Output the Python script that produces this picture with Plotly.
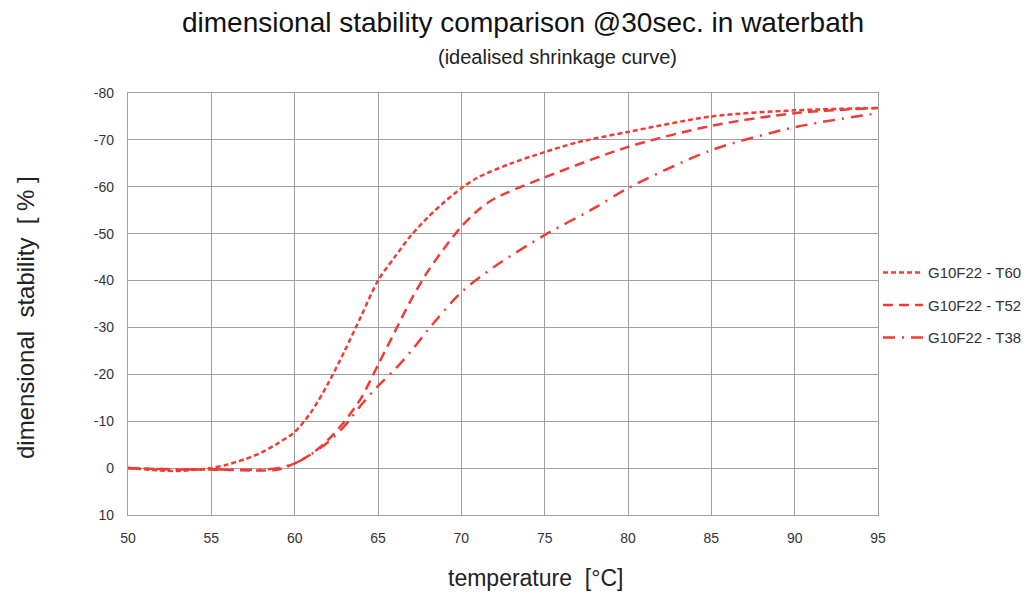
import plotly.graph_objects as go

temps_t60 = [50, 52, 53, 55, 56, 57, 58, 59, 60, 61, 62, 63, 64, 65, 66, 67, 68, 69, 70, 71, 73, 75, 77, 80, 85, 90, 95]
vals_t60 = [0, 0.5, 0.6, 0, -0.8, -1.9, -3.3, -5.3, -7.7, -12, -18, -25, -32.5, -40, -45, -49.7, -53.5, -56.8, -59.7, -62, -65, -67.4, -69.5, -71.7, -75, -76.3, -76.8]

temps_t52 = [50, 53, 55, 58, 59, 60, 61, 62, 63, 64, 65, 66, 67, 68, 69, 70, 71, 72, 75, 80, 85, 90, 95]
vals_t52 = [0, 0.3, 0.3, 0.5, 0.3, -1, -3, -6, -10, -15, -22, -29, -36, -42, -47, -51.5, -55, -57.5, -62, -68.5, -73, -75.7, -76.8]

temps_t38 = [50, 53, 55, 58, 59, 60, 61, 62, 63, 64, 65, 66, 67, 68, 70, 72, 75, 78, 80, 85, 90, 95]
vals_t38 = [0, 0.3, 0.3, 0.3, 0, -1, -3, -5.5, -9, -13.5, -17.5, -21, -25, -29.5, -37.5, -43, -49.7, -55.5, -59.7, -67.8, -72.7, -75.7]

series_names = ["G10F22 - T60", "G10F22 - T52", "G10F22 - T38"]
x_ticks = [50, 55, 60, 65, 70, 75, 80, 85, 90, 95]
y_ticks = [10, 0, -10, -20, -30, -40, -50, -60, -70, -80]
y_tick_text = ["10", "0", "-10", "-20", "-30", "-40", "-50", "-60", "-70", "-80"]

red = "#ee3d36"
dashes = ["5px,3px", "10px,6px", "12px,7px,2px,7px"]
fig = go.Figure()
for i, (name, xs, ys, d) in enumerate(zip(series_names, [temps_t60, temps_t52, temps_t38],
                                          [vals_t60, vals_t52, vals_t38], dashes)):
    fig.add_trace(go.Scatter(x=xs, y=ys, mode="lines", name=name, legendgroup=f"g{i}",
                             line=dict(color=red, width=2.5, dash=d, shape="spline", smoothing=0.8)))

font = "Liberation Sans, Arial, sans-serif"
# the page body has an 8px margin: compensate so the plot sits at 128..878 x 93..515
L, T, PW, PH = 120, 85, 750, 422


def px_x(p):
    return (p - 128) / PW


def px_y(p):
    return (515 - p) / PH


fig.update_layout(
    width=1034, height=595,
    margin=dict(l=L, r=1034 - L - PW, t=T, b=595 - T - PH),
    paper_bgcolor="white", plot_bgcolor="white",
    font=dict(family=font, color="#222"),
    showlegend=True,
    legend=dict(x=1.0, y=0.613, xanchor="left", yanchor="top",
                font=dict(size=15, color="#333"), tracegroupgap=10,
                itemwidth=40, bgcolor="rgba(0,0,0,0)"),
    annotations=[
        dict(text="dimensional stability comparison @30sec. in waterbath",
             x=px_x(523), y=px_y(22), xref="paper", yref="paper",
             xanchor="center", yanchor="middle", showarrow=False,
             font=dict(size=28, color="#111")),
        dict(text="(idealised shrinkage curve)",
             x=px_x(557), y=px_y(57), xref="paper", yref="paper",
             xanchor="center", yanchor="middle", showarrow=False,
             font=dict(size=20, color="#222")),
        dict(text="temperature  [°C]",
             x=px_x(535), y=px_y(578), xref="paper", yref="paper",
             xanchor="center", yanchor="middle", showarrow=False,
             font=dict(size=23, color="#222")),
        dict(text="dimensional  stability  [ % ]", textangle=-90,
             x=px_x(25), y=px_y(318), xref="paper", yref="paper",
             xanchor="center", yanchor="middle", showarrow=False,
             font=dict(size=24, color="#222")),
    ],
)

fig.update_xaxes(range=[50, 95], tickvals=x_ticks, showgrid=True, gridcolor="#a0a0a0", gridwidth=1.3,
                 showline=True, linecolor="#a0a0a0", linewidth=1.3, mirror=True, zeroline=False,
                 ticks="", ticklabelstandoff=10, tickfont=dict(size=14, color="#333"))
fig.update_yaxes(range=[10, -80], tickvals=y_ticks, ticktext=y_tick_text, showgrid=True,
                 gridcolor="#a0a0a0", gridwidth=1.3,
                 showline=True, linecolor="#a0a0a0", linewidth=1.3, mirror=True, zeroline=False,
                 ticks="", ticklabelstandoff=10, tickfont=dict(size=14, color="#333"))

fig.write_html("out.html")
